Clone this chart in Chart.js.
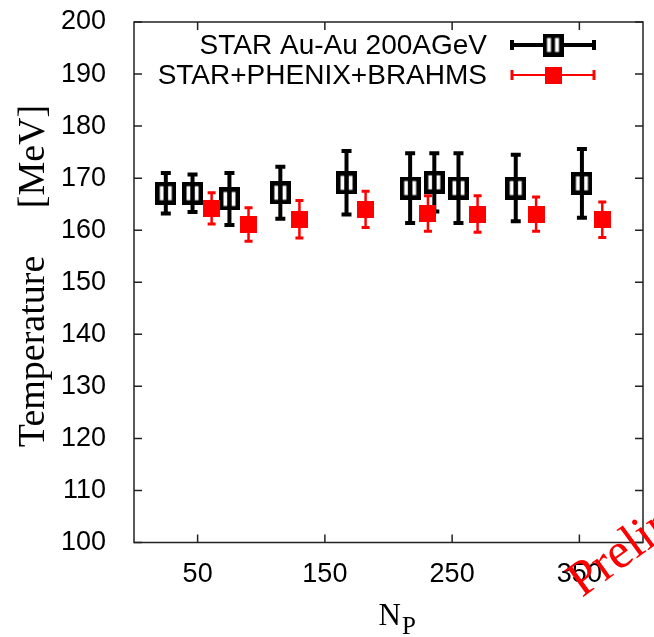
<!DOCTYPE html>
<html lang="en">
<head>
    <meta charset="UTF-8">
    <title>Temperature vs Np</title>
    <style>
        html, body { margin: 0; padding: 0; background: #fff; }
        .chart-box { width: 654px; height: 637px; }
    </style>
</head>
<body>
    <div class="chart-box">
        <canvas id="tempChart" width="654" height="637"></canvas>
    </div>

    <script src="https://cdn.jsdelivr.net/npm/chart.js"></script>
    <script>
        // STAR Au-Au 200 GeV
        const starNp = [25, 46, 75, 115, 167, 217, 236, 255, 300, 352];
        const starT = [167.1, 167.1, 166.0, 167.2, 169.1, 168.1, 169.2, 168.1, 168.1, 169.0];
        const starErr = [3.9, 3.6, 5.0, 5.0, 6.1, 6.7, 5.6, 6.7, 6.4, 6.6];

        // STAR+PHENIX+BRAHMS
        const combNp = [61, 90, 130, 182, 231, 270, 316, 368];
        const combT = [164.2, 161.1, 162.1, 164.0, 163.2, 163.1, 163.1, 162.0];
        const combErr = [3.0, 3.2, 3.6, 3.5, 3.4, 3.5, 3.3, 3.4];

        const xTicks = [50, 150, 250, 350];
        const legendLabels = ['STAR Au-Au 200AGeV', 'STAR+PHENIX+BRAHMS'];

        // marker images; the open box carries the bar through its middle
        function makeBox(w, h, fill, stroke, lw, midBar) {
            const c = document.createElement('canvas');
            c.width = w; c.height = h;
            const g = c.getContext('2d');
            g.fillStyle = fill;
            g.fillRect(0, 0, w, h);
            if (stroke) {
                g.strokeStyle = stroke;
                g.lineWidth = lw;
                g.strokeRect(lw / 2, lw / 2, w - lw, h - lw);
                if (midBar) {
                    g.fillStyle = stroke;
                    g.fillRect(w / 2 - midBar / 2, 0, midBar, h);
                }
            }
            return c;
        }
        const openBox = makeBox(21, 23, '#fff', '#000', 4.5, 4);
        const redBox = makeBox(17, 17, '#ff0000', null, 0, 0);

        const toPts = (xs, ys) => xs.map((x, i) => ({ x: x, y: ys[i] }));

        // vertical error bars
        const errorBars = {
            id: 'errorBars',
            afterDatasetDraw(chart, args) {
                const ds = chart.data.datasets[args.index];
                const y = chart.scales.y;
                const ctx = chart.ctx;
                ctx.save();
                ctx.strokeStyle = ds.barColor;
                args.meta.data.forEach((pt, j) => {
                    const v = ds.data[j].y, e = ds.errors[j];
                    const top = y.getPixelForValue(v + e);
                    const bot = y.getPixelForValue(v - e);
                    ctx.lineWidth = ds.barWidth;
                    ctx.beginPath();
                    ctx.moveTo(pt.x, top);
                    ctx.lineTo(pt.x, bot);
                    ctx.stroke();
                    ctx.lineWidth = ds.capThick;
                    ctx.beginPath();
                    ctx.moveTo(pt.x - ds.capHalf, top);
                    ctx.lineTo(pt.x + ds.capHalf, top);
                    ctx.moveTo(pt.x - ds.capHalf, bot);
                    ctx.lineTo(pt.x + ds.capHalf, bot);
                    ctx.stroke();
                });
                ctx.restore();
            }
        };

        // gnuplot-like frame with inward ticks, legend, titles, watermark
        const decor = {
            id: 'decor',
            afterDraw(chart) {
                const ctx = chart.ctx;
                const a = chart.chartArea;
                const xs = chart.scales.x, ys = chart.scales.y;
                const tl = 8;
                ctx.save();
                ctx.strokeStyle = '#222';
                ctx.lineWidth = 1.5;
                ctx.strokeRect(a.left, a.top, a.right - a.left, a.bottom - a.top);
                ctx.beginPath();
                xs.ticks.forEach(t => {
                    const px = xs.getPixelForValue(t.value);
                    ctx.moveTo(px, a.bottom); ctx.lineTo(px, a.bottom - tl);
                    ctx.moveTo(px, a.top); ctx.lineTo(px, a.top + tl);
                });
                ys.ticks.forEach(t => {
                    const py = ys.getPixelForValue(t.value);
                    ctx.moveTo(a.left, py); ctx.lineTo(a.left + tl, py);
                    ctx.moveTo(a.right, py); ctx.lineTo(a.right - tl, py);
                });
                ctx.stroke();

                // legend
                const textRight = a.left + 353;
                const sx0 = a.left + 378, sx1 = a.left + 460;
                const sxm = (sx0 + sx1) / 2;
                const rows = [a.top + 23, a.top + 53];
                ctx.font = '28px "Liberation Sans", Arial, sans-serif';
                ctx.fillStyle = '#000';
                ctx.textAlign = 'right';
                ctx.textBaseline = 'middle';
                ctx.fillText(legendLabels[0], textRight, rows[0] + 1);
                ctx.fillText(legendLabels[1], textRight, rows[1] + 1);
                // black sample
                ctx.strokeStyle = '#000';
                ctx.lineWidth = 4;
                ctx.beginPath();
                ctx.moveTo(sx0, rows[0]); ctx.lineTo(sx1, rows[0]);
                ctx.moveTo(sx0, rows[0] - 5); ctx.lineTo(sx0, rows[0] + 5);
                ctx.moveTo(sx1, rows[0] - 5); ctx.lineTo(sx1, rows[0] + 5);
                ctx.stroke();
                ctx.drawImage(openBox, sxm - openBox.width / 2, rows[0] - openBox.height / 2);
                // red sample
                ctx.strokeStyle = '#ff0000';
                ctx.lineWidth = 2;
                ctx.beginPath();
                ctx.moveTo(sx0, rows[1]); ctx.lineTo(sx1, rows[1]);
                ctx.stroke();
                ctx.lineWidth = 3;
                ctx.beginPath();
                ctx.moveTo(sx0, rows[1] - 5); ctx.lineTo(sx0, rows[1] + 5);
                ctx.moveTo(sx1, rows[1] - 5); ctx.lineTo(sx1, rows[1] + 5);
                ctx.stroke();
                ctx.drawImage(redBox, sxm - redBox.width / 2, rows[1] - redBox.height / 2);

                // x title N_P
                const cx = 401;
                ctx.fillStyle = '#000';
                ctx.textBaseline = 'alphabetic';
                ctx.textAlign = 'right';
                ctx.font = '31px "Liberation Serif", "Times New Roman", serif';
                ctx.fillText('N', cx, 625);
                ctx.textAlign = 'left';
                ctx.font = '25px "Liberation Serif", "Times New Roman", serif';
                ctx.fillText('P', cx + 1, 634);

                // y title
                ctx.save();
                ctx.translate(44, 276);
                ctx.rotate(-Math.PI / 2);
                ctx.textAlign = 'center';
                ctx.font = '38px "Liberation Serif", "Times New Roman", serif';
                ctx.fillText('Temperature     [MeV]', 0, 0);
                ctx.restore();

                // watermark
                ctx.translate(582, 598);
                ctx.rotate(-36 * Math.PI / 180);
                ctx.fillStyle = '#ff0000';
                ctx.textAlign = 'left';
                ctx.font = '50px "Liberation Serif", "Times New Roman", serif';
                ctx.fillText('Preliminary', 0, 0);
                ctx.restore();
            }
        };

        new Chart(document.getElementById('tempChart'), {
            type: 'scatter',
            data: {
                datasets: [{
                    label: legendLabels[0],
                    data: toPts(starNp, starT),
                    errors: starErr,
                    pointStyle: openBox,
                    pointRadius: 10,
                    barColor: '#000',
                    barWidth: 4,
                    capThick: 4,
                    capHalf: 5,
                    order: 2
                }, {
                    label: legendLabels[1],
                    data: toPts(combNp, combT),
                    errors: combErr,
                    pointStyle: redBox,
                    pointRadius: 8,
                    barColor: '#ff0000',
                    barWidth: 2.5,
                    capThick: 3,
                    capHalf: 4,
                    order: 1
                }]
            },
            options: {
                responsive: false,
                animation: false,
                events: [],
                layout: { padding: { left: 0, top: 22, right: 2, bottom: 0 } },
                plugins: {
                    legend: { display: false },
                    tooltip: { enabled: false }
                },
                scales: {
                    x: {
                        type: 'linear',
                        min: 0,
                        max: 400,
                        afterBuildTicks: s => { s.ticks = xTicks.map(v => ({ value: v })); },
                        afterFit: s => { s.height = 94.5; s.paddingLeft = 0; s.paddingRight = 0; },
                        grid: { display: false },
                        border: { display: false },
                        ticks: {
                            color: '#000',
                            padding: 8,
                            maxRotation: 0,
                            font: { family: '"Liberation Sans", Arial, sans-serif', size: 27 }
                        }
                    },
                    y: {
                        min: 100,
                        max: 200,
                        afterFit: s => { s.width = 134; s.paddingTop = 0; s.paddingBottom = 0; },
                        grid: { display: false },
                        border: { display: false },
                        ticks: {
                            stepSize: 10,
                            color: '#000',
                            padding: 20,
                            font: { family: '"Liberation Sans", Arial, sans-serif', size: 27 }
                        }
                    }
                }
            },
            plugins: [errorBars, decor]
        });
    </script>
</body>
</html>
